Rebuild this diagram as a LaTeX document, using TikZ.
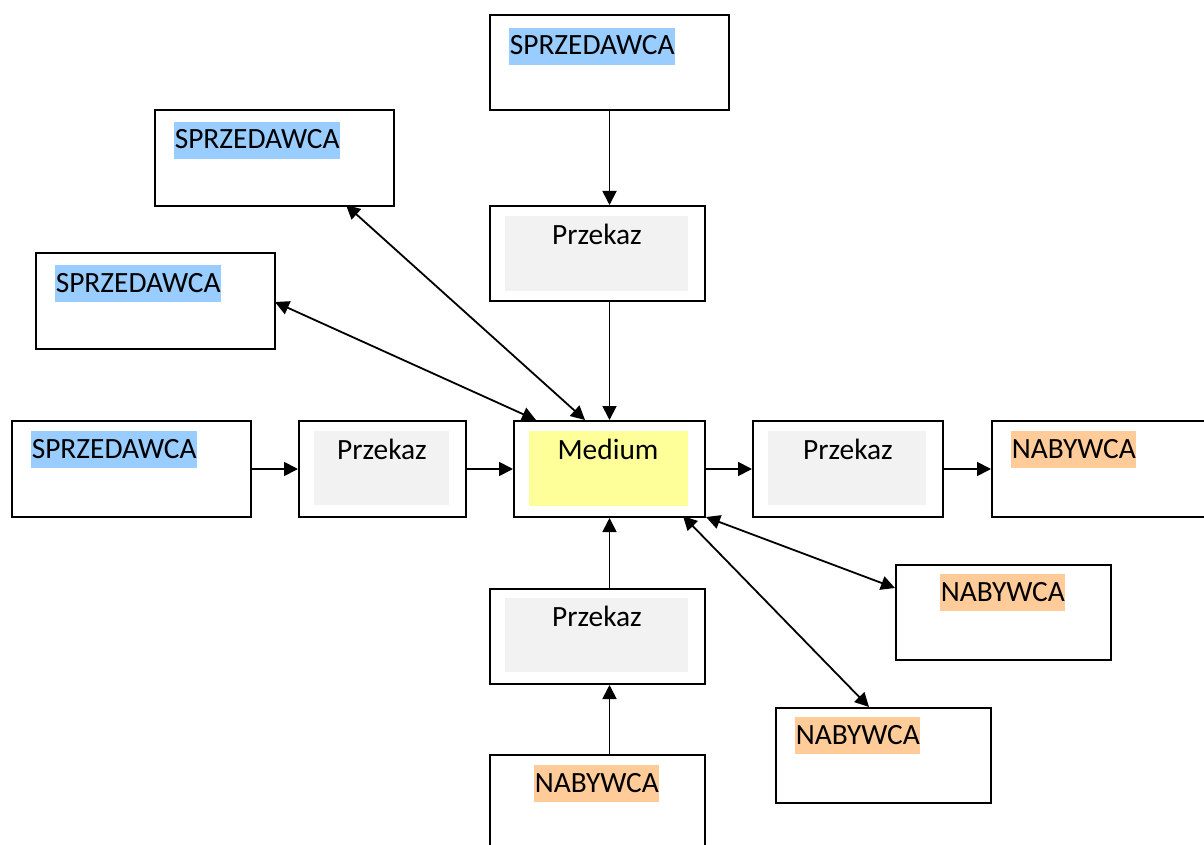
\documentclass[tikz,border=0pt]{standalone}
\usepackage{fontspec}
\setmainfont{Carlito}
\usetikzlibrary{arrows.meta}

\definecolor{sellerblue}{HTML}{99CCFF}
\definecolor{buyerorange}{HTML}{FFCC99}
\definecolor{mediumyellow}{HTML}{FFFF99}
\definecolor{panelgray}{HTML}{F2F2F2}

\tikzset{
  frame/.style={draw=black, line width=2pt, fill=white, anchor=north west, inner sep=0pt},
  panel/.style={fill=#1, draw=none, anchor=north west, inner sep=0pt},
  lbl/.style={font=\fontsize{29.4}{35}\selectfont, inner xsep=0.6pt, inner ysep=0pt,
              text height=27pt, text depth=10pt, anchor=base west},
  seller/.style={lbl, fill=sellerblue},
  buyer/.style={lbl, fill=buyerorange},
  plain/.style={font=\fontsize{29.4}{35}\selectfont, inner sep=0pt, anchor=base},
  link/.style={line width=1.8pt, -{Triangle[length=14pt,width=14pt]}},
  twoway/.style={line width=1.8pt, {Triangle[length=14pt,width=14pt]}-{Triangle[length=14pt,width=14pt]}},
}

\begin{document}
\begin{tikzpicture}[x=1pt, y=-1pt]
\clip (0,0) rectangle (1204,845);
\fill[white] (0,0) rectangle (1204,845);

% sellers
\node[frame, minimum width=239pt, minimum height=95pt] (s1) at (489,14) {};
\node[seller] (s1l) at (509,55) {SPRZEDAWCA};
\node[frame, minimum width=239pt, minimum height=96pt] (s2) at (154,109) {};
\node[seller] (s2l) at (174,149) {SPRZEDAWCA};
\node[frame, minimum width=239pt, minimum height=96pt] (s3) at (35,252) {};
\node[seller] (s3l) at (55,292) {SPRZEDAWCA};
\node[frame, minimum width=239pt, minimum height=96pt] (s4) at (11,420) {};
\node[seller] (s4l) at (31,458) {SPRZEDAWCA};

% transfer boxes
\node[frame, minimum width=215pt, minimum height=95pt] (pt) at (489,205) {};
\node[panel=panelgray, minimum width=183pt, minimum height=75pt] (ptg) at (505,216) {};
\node[plain] (ptl) at (597,244) {Przekaz};

\node[frame, minimum width=167pt, minimum height=96pt] (pl) at (298,420) {};
\node[panel=panelgray, minimum width=135pt, minimum height=74pt] (plg) at (314,431) {};
\node[plain] (pll) at (382,459) {Przekaz};

\node[frame, minimum width=190pt, minimum height=96pt] (pr) at (752,420) {};
\node[panel=panelgray, minimum width=158pt, minimum height=74pt] (prg) at (768,431) {};
\node[plain] (prl) at (848,459) {Przekaz};

\node[frame, minimum width=215pt, minimum height=95pt] (pb) at (489,588) {};
\node[panel=panelgray, minimum width=183pt, minimum height=74pt] (pbg) at (505,598) {};
\node[plain] (pbl) at (597,626) {Przekaz};

% medium
\node[frame, minimum width=191pt, minimum height=96pt] (m) at (513,420) {};
\node[panel=mediumyellow, minimum width=159pt, minimum height=75pt] (mg) at (529,431) {};
\node[plain] (ml) at (608,459) {Medium};

% buyers
\node[frame, minimum width=240pt, minimum height=96pt] (b1) at (991,420) {};
\node[buyer] (b1l) at (1011,458) {NABYWCA};
\node[frame, minimum width=215pt, minimum height=95pt] (b2) at (895,564) {};
\node[buyer] (b2l) at (940,601) {NABYWCA};
\node[frame, minimum width=215pt, minimum height=95pt] (b3) at (775,707) {};
\node[buyer] (b3l) at (795,744) {NABYWCA};
\node[frame, minimum width=215pt, minimum height=120pt] (b4) at (489,754) {};
\node[buyer] (b4l) at (534,792) {NABYWCA};

% one-way flows (vertical ones run on the medium's centre line)
\draw[link] (m.north |- s1.south) -- (m.north |- pt.north);
\draw[link] (m.north |- pt.south) -- (m.north);
\draw[link] (s4.east |- pl.west) -- (pl.west);
\draw[link] (pl.east) -- (m.west);
\draw[link] (m.east) -- (pr.west);
\draw[link] (pr.east) -- (b1.west |- pr.east);
\draw[link] (m.south |- pb.north) -- (m.south);
\draw[link] (m.south |- b4.north) -- (m.south |- pb.south);

% two-way flows
\coordinate (m-a) at (585,420);
\coordinate (m-b) at (536,420);
\coordinate (m-c) at (706,517);
\coordinate (m-d) at (683,516);
\coordinate (s2-e) at (346,205);
\coordinate (s3-e) at (275,302);
\coordinate (b2-e) at (895,588);
\coordinate (b3-e) at (869,707);
\draw[twoway] (s2-e) -- (m-a);
\draw[twoway] (s3-e) -- (m-b);
\draw[twoway] (m-c) -- (b2-e);
\draw[twoway] (m-d) -- (b3-e);
\end{tikzpicture}
\end{document}
